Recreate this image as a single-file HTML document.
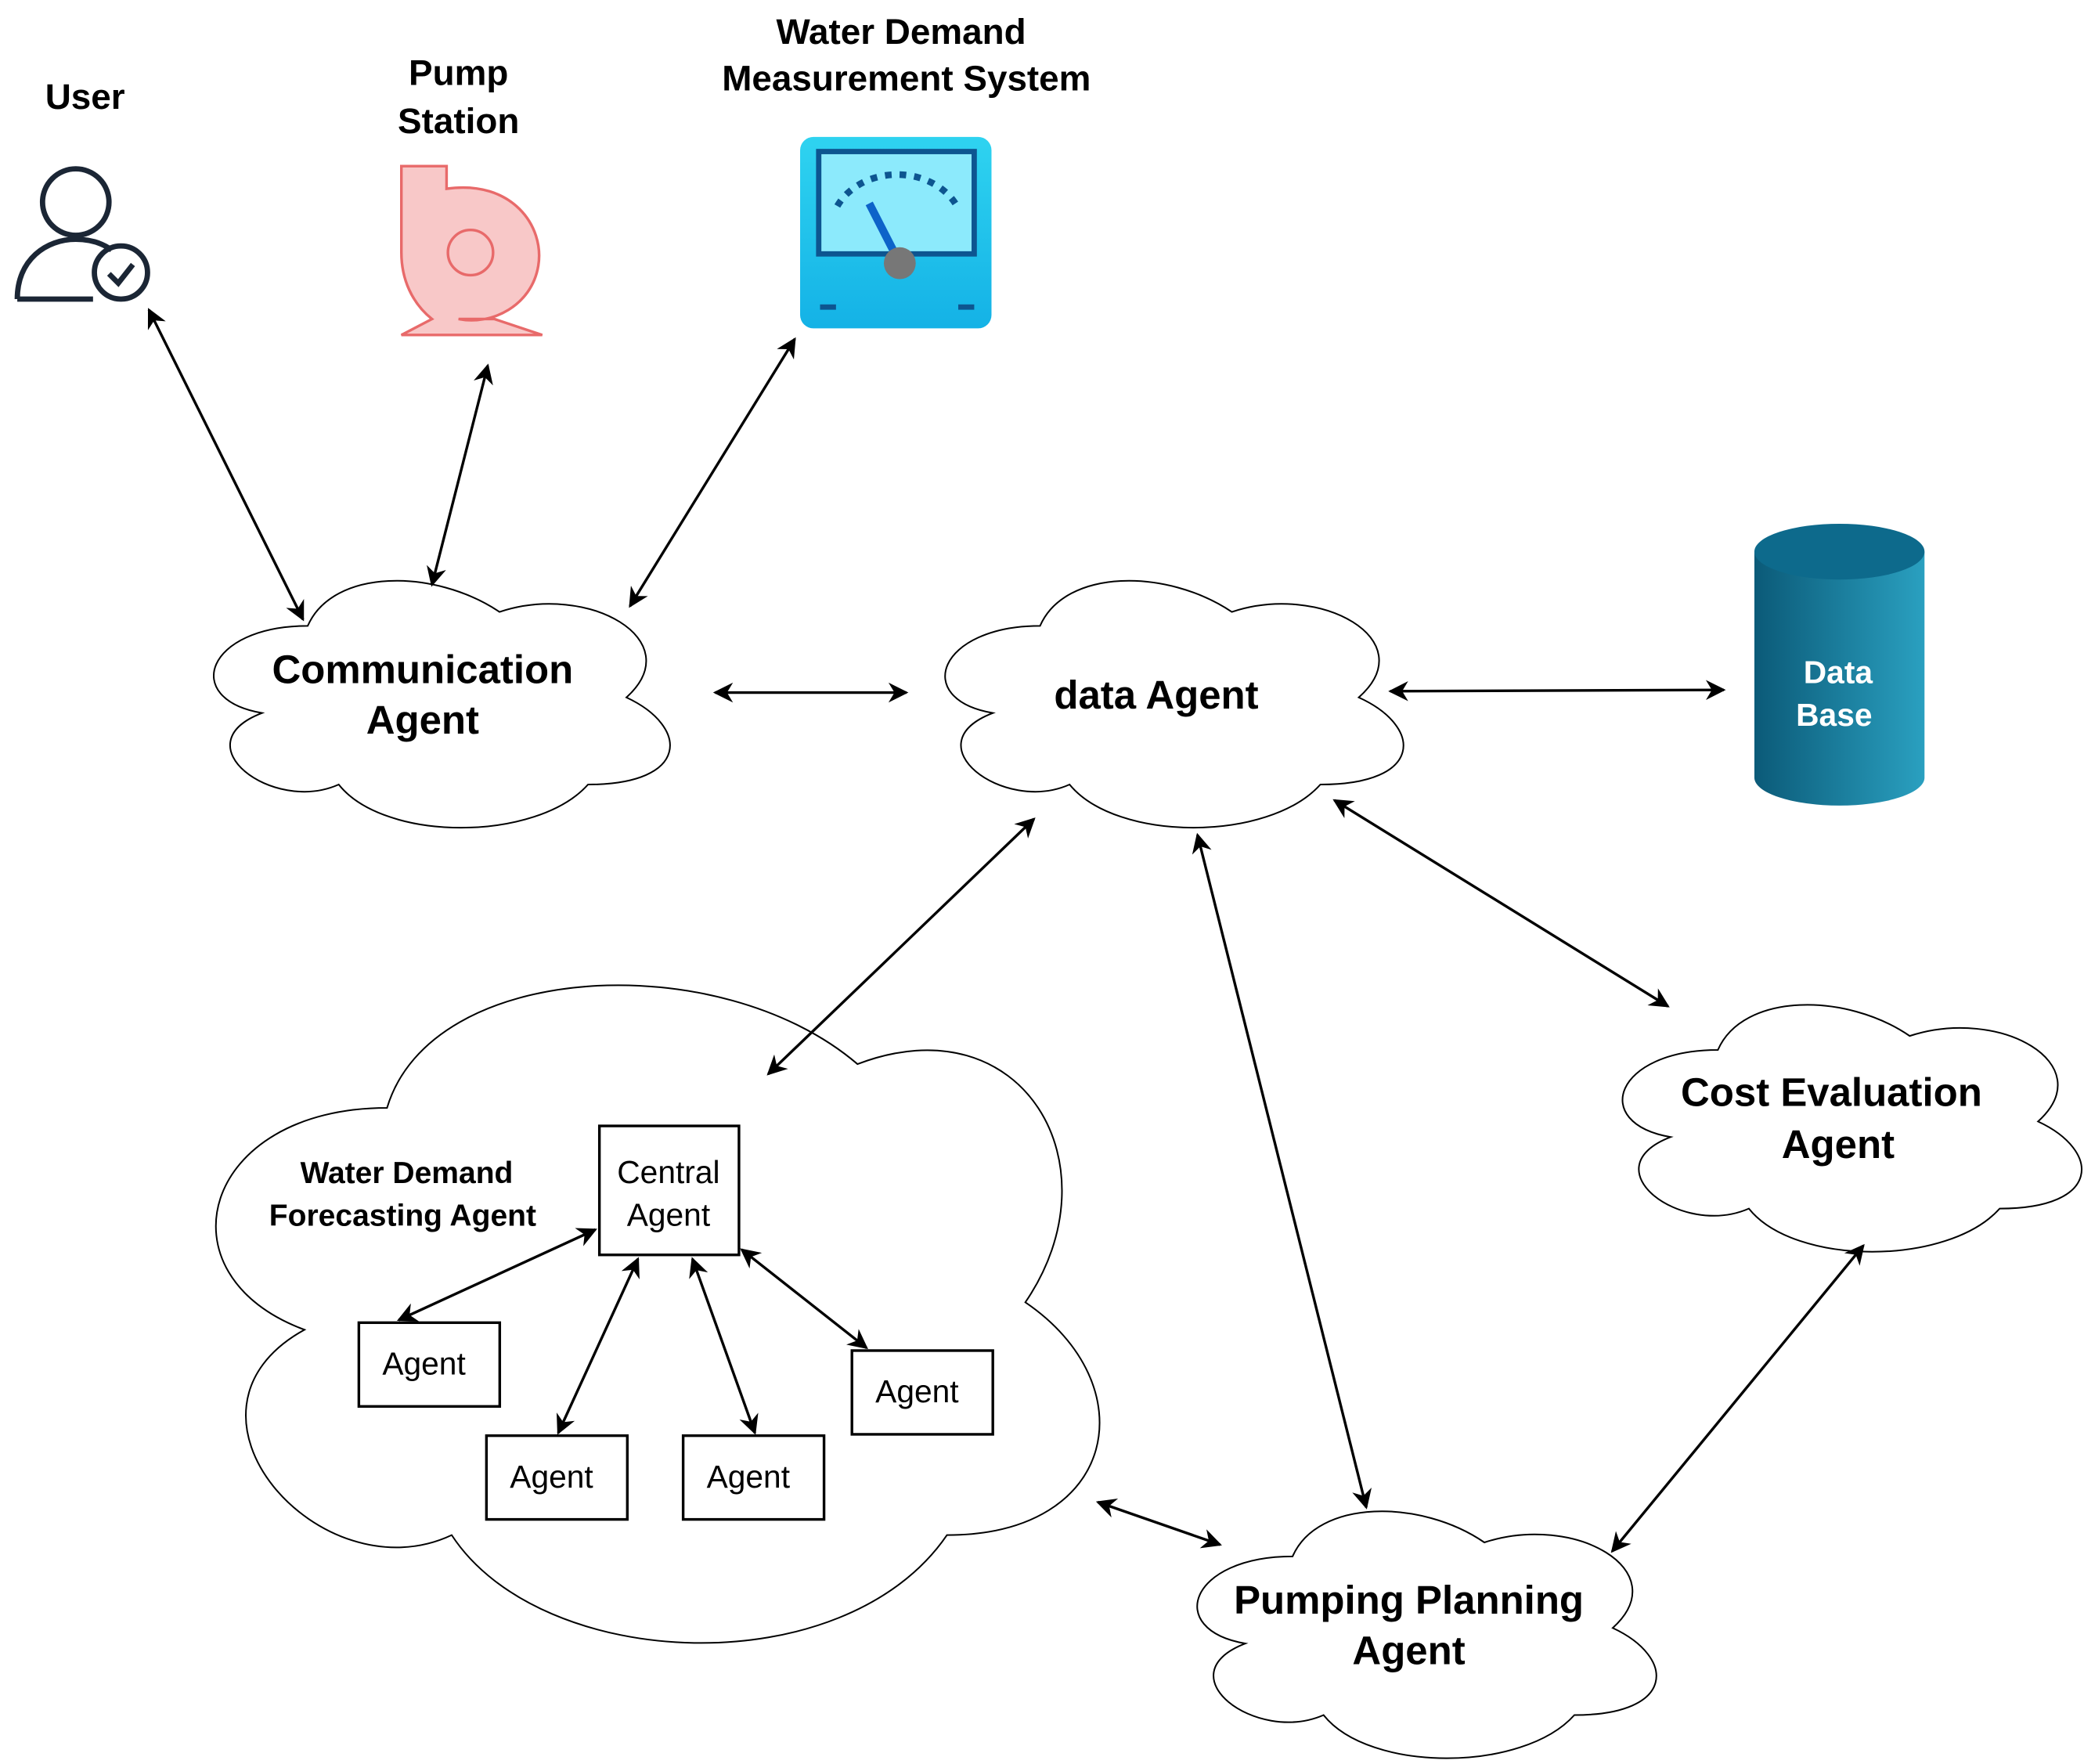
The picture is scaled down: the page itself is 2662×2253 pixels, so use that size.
<!DOCTYPE html>
<html><head><meta charset="utf-8">
<style>
html,body{margin:0;padding:0;background:#fff;}
svg{display:block;}
text{font-family:"Liberation Sans",Arial,sans-serif;}
</style></head>
<body>
<svg width="2662" height="2253" viewBox="0 0 1568 1327" preserveAspectRatio="none" xmlns="http://www.w3.org/2000/svg">
<defs>
<marker id="ah" viewBox="0 0 10 10" refX="9" refY="5" markerWidth="17" markerHeight="15" orient="auto-start-reverse" markerUnits="userSpaceOnUse">
<path d="M0,0 L10,5 L0,10 L3,5 Z" fill="#000"/>
</marker>
<linearGradient id="cyl" x1="0" x2="1">
<stop offset="0" stop-color="#0b5a78"/><stop offset="1" stop-color="#2aa0c0"/>
</linearGradient>
<linearGradient id="met" x1="0" y1="0" x2="0" y2="1">
<stop offset="0" stop-color="#2fd3f0"/><stop offset="1" stop-color="#14b2e6"/>
</linearGradient>
</defs>

<g fill="#fff" stroke="#000" stroke-width="2">
<path transform="translate(327,527) scale(1.11,1.17) translate(-327,-527)" vector-effect="non-scaling-stroke" d="M241,479 C172,479 155,526 210,535 C155,555 217,600 262,581 C293,618 396,618 431,581 C500,581 500,544 457,525 C500,488 431,451 371,470 C327,442 258,442 241,479Z"/>
<path transform="translate(878,527) scale(1.11,1.17) translate(-878,-527)" vector-effect="non-scaling-stroke" d="M792,479 C723,479 705,526 760,535 C705,555 767,600 812,581 C844,618 947,618 982,581 C1052,581 1052,544 1008,525 C1052,488 982,451 922,470 C878,442 809,442 792,479Z"/>
<path transform="translate(1388,846) scale(1.11,1.17) translate(-1388,-846)" vector-effect="non-scaling-stroke" d="M1302,798 C1232,798 1215,845 1270,854 C1215,874 1277,919 1323,900 C1354,937 1458,937 1493,900 C1562,900 1562,863 1519,844 C1562,807 1493,770 1432,789 C1389,761 1319,761 1302,798Z"/>
<path transform="translate(1068,1227) scale(1.11,1.17) translate(-1068,-1227)" vector-effect="non-scaling-stroke" d="M982,1179 C912,1179 895,1226 950,1235 C895,1255 957,1300 1003,1281 C1034,1318 1138,1318 1173,1281 C1242,1281 1242,1244 1199,1225 C1242,1188 1173,1151 1112,1170 C1069,1142 999,1142 982,1179Z"/>
<path transform="translate(492,990) scale(1.035,1.03) translate(-492,-990)" vector-effect="non-scaling-stroke" d="M298,838 C163,838 130,960 238,1000 C130,1060 250,1195 345,1150 C410,1250 630,1260 705,1150 C830,1150 850,1040 762,980 C830,880 760,760 640,806 C540,720 330,730 298,838Z"/>
</g>

<g font-weight="bold" text-anchor="middle" fill="#000">
<text x="318" y="514" font-size="30">Communication</text>
<text x="318" y="552" font-size="30">Agent</text>
<text x="870" y="533" font-size="30">data Agent</text>
<text x="1378" y="832" font-size="30">Cost Evaluation</text>
<text x="1383" y="871" font-size="30">Agent</text>
<text x="1060" y="1214" font-size="30">Pumping Planning</text>
<text x="1060" y="1252" font-size="30">Agent</text>
<text x="306" y="890" font-size="23">Water Demand</text>
<text x="303" y="922" font-size="23">Forecasting Agent</text>
<text x="64" y="82" font-size="27">User</text>
<text x="345" y="64" font-size="27">Pump</text>
<text x="345" y="100" font-size="27">Station</text>
<text x="678" y="33" font-size="27">Water Demand</text>
<text x="682" y="68" font-size="27">Measurement System</text>
</g>

<g fill="#fff" stroke="#000" stroke-width="2">
<rect x="451" y="847" width="105" height="97"/>
<rect x="270" y="995" width="106" height="63"/>
<rect x="366" y="1080" width="106" height="63"/>
<rect x="514" y="1080" width="106" height="63"/>
<rect x="641" y="1016" width="106" height="63"/>
</g>
<g font-size="24" text-anchor="middle" fill="#000">
<text x="503" y="890">Central</text>
<text x="503" y="922">Agent</text>
<text x="319" y="1034">Agent</text>
<text x="415" y="1119">Agent</text>
<text x="563" y="1119">Agent</text>
<text x="690" y="1055">Agent</text>
</g>

<g stroke="#000" stroke-width="2" fill="none" marker-start="url(#ah)" marker-end="url(#ah)">
<line x1="112" y1="233" x2="228" y2="466"/>
<line x1="367" y1="275" x2="325" y2="440"/>
<line x1="598" y1="255" x2="474" y2="456"/>
<line x1="538" y1="521" x2="682" y2="521"/>
<line x1="1046" y1="520" x2="1297" y2="519"/>
<line x1="778" y1="616" x2="578" y2="808"/>
<line x1="901" y1="628" x2="1028" y2="1134"/>
<line x1="1004" y1="602" x2="1255" y2="757"/>
<line x1="1402" y1="937" x2="1213" y2="1167"/>
<line x1="826" y1="1130" x2="918" y2="1162"/>
<line x1="448" y1="925" x2="300" y2="993"/>
<line x1="480" y1="947" x2="420" y2="1078"/>
<line x1="521" y1="947" x2="568" y2="1078"/>
<line x1="558" y1="940" x2="652" y2="1014"/>
</g>

<path d="M1320,415 L1320,585 A64,21 0 0 0 1448,585 L1448,415 Z" fill="url(#cyl)"/>
<ellipse cx="1384" cy="415" rx="64" ry="21" fill="#0d6a8c"/>
<g font-weight="bold" font-size="24" fill="#fff" text-anchor="middle">
<text x="1383" y="514">Data</text>
<text x="1380" y="546">Base</text>
</g>

<g fill="none" stroke="#1b2635" stroke-width="4">
<circle cx="57" cy="152" r="25"/>
<path d="M13,225 C13,195 35,180 57,180 C68,180 77,183 84,188"/>
<line x1="13" y1="225" x2="70" y2="225"/>
<circle cx="91" cy="205" r="20"/>
<path d="M82,206 L89,213 L100,199"/>
</g>

<g fill="#f8c8c8" stroke="#e86a6a" stroke-width="2">
<path d="M302,125 L336,125 L336,142 C385,135 410,170 405,200 C400,230 370,245 345,240 L372,240 L408,252 L302,252 L325,240 C310,228 302,210 302,190 Z"/>
<circle cx="354" cy="190" r="17"/>
</g>

<rect x="602" y="103" width="144" height="144" rx="10" fill="url(#met)"/>
<rect x="616" y="114" width="117" height="77" fill="#8ceafc" stroke="#0d5590" stroke-width="4"/>
<path d="M630,155 A50,42 0 0 1 720,155" fill="none" stroke="#0d5590" stroke-width="5" stroke-dasharray="5 6"/>
<line x1="677" y1="198" x2="654" y2="153" stroke="#0d63c9" stroke-width="6"/>
<circle cx="677" cy="198" r="12" fill="#777"/>
<rect x="617" y="229" width="12" height="4" fill="#0d5590"/>
<rect x="721" y="229" width="12" height="4" fill="#0d5590"/>
</svg>
</body></html>
